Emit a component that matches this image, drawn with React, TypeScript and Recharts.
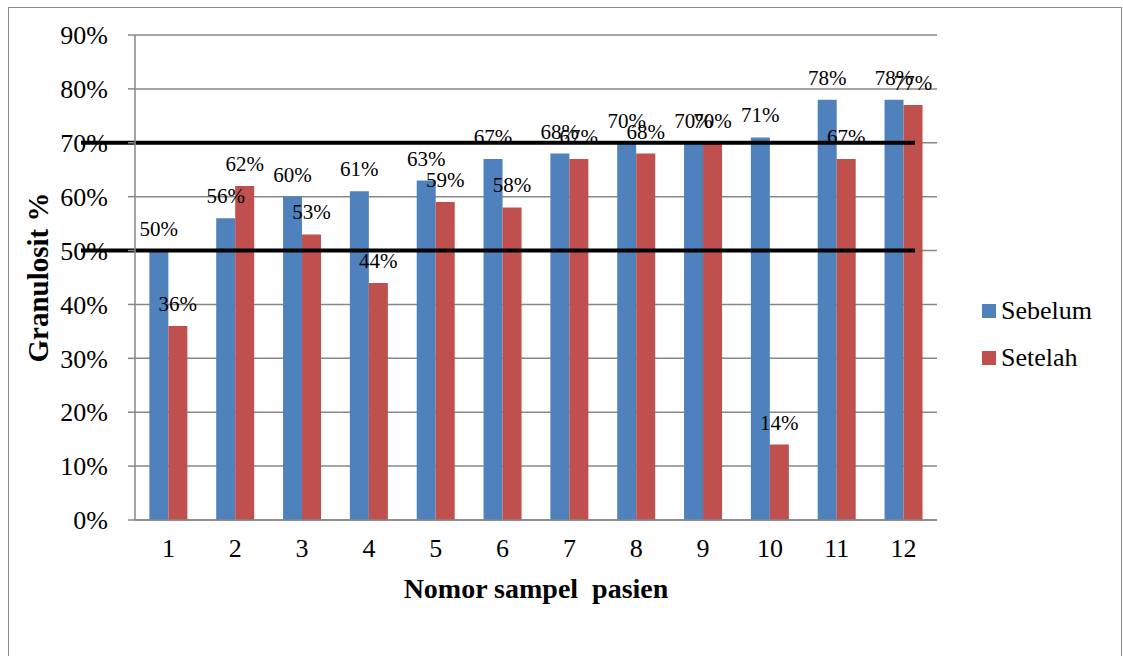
import { BarChart, Bar, XAxis, YAxis, CartesianGrid, LabelList, ReferenceLine } from "recharts";

const SAMPLES = ["1", "2", "3", "4", "5", "6", "7", "8", "9", "10", "11", "12"];
const SEBELUM = [50, 56, 60, 61, 63, 67, 68, 70, 70, 71, 78, 78];
const SETELAH = [36, 62, 53, 44, 59, 58, 67, 68, 70, 14, 67, 77];
const Y_TICKS = [0, 10, 20, 30, 40, 50, 60, 70, 80, 90];
const LIMITS = [70, 50];

const BLUE = "#4F81BD";
const RED = "#C0504D";
const GRID = "#878787";
const FONT = '"Liberation Serif", "Times New Roman", serif';

const data = SAMPLES.map((s, i) => ({ sample: s, sebelum: SEBELUM[i], setelah: SETELAH[i] }));

// thick black lines drawn over the chart, a bit wider than the plot on the left
const limitLine = (props: any) => (
  <line x1={props.x1 - 54} y1={props.y1} x2={props.x2 - 22} y2={props.y2} stroke="#000" strokeWidth={4} />
);

// rotated y title, centred on the plot height
const YTitle = (props: any) => {
  const vb = props.viewBox || {};
  const cy = vb.y + vb.height / 2;
  return (
    <text x={38} y={cy} transform={`rotate(-90, 38, ${cy})`} textAnchor="middle" dominantBaseline="central"
      fontFamily={FONT} fontSize={29} fontWeight="bold" fill="#000">
      Granulosit %
    </text>
  );
};

function LegendBox() {
  const items = [
    { name: "Sebelum", color: BLUE },
    { name: "Setelah", color: RED },
  ];
  return (
    <div style={{ position: "absolute", left: 982, top: 287, fontFamily: FONT, fontSize: 26, color: "#000" }}>
      {items.map((it) => (
        <div key={it.name} style={{ display: "flex", alignItems: "center", height: 47 }}>
          <span style={{ width: 14, height: 14, background: it.color, marginRight: 5, display: "inline-block" }} />
          {it.name}
        </div>
      ))}
    </div>
  );
}

export default function App() {
  return (
    <div style={{ position: "absolute", left: 0, top: 0, width: 1123, height: 656, overflow: "hidden", background: "#fff", fontFamily: FONT }}>
      <div style={{ position: "absolute", left: 8, top: 7, width: 1112, height: 680, border: "1.5px solid #8c8c8c" }} />
      <BarChart
        width={1123}
        height={656}
        data={data}
        margin={{ top: 35, right: 186, left: 0, bottom: 56 }}
        barGap={0}
        barCategoryGap="21.5%"
        style={{ fontFamily: FONT }}
      >
        <CartesianGrid vertical={false} stroke={GRID} strokeWidth={1.5} />
        <XAxis
          dataKey="sample"
          tickLine={false}
          axisLine={{ stroke: GRID, strokeWidth: 1.5 }}
          tick={{ fill: "#000", fontSize: 26, fontFamily: FONT }}
          tickMargin={13}
          height={80}
          label={{ value: "Nomor sampel\u00a0 pasien", position: "insideBottom", offset: 2, fill: "#000", fontSize: 28, fontWeight: "bold", fontFamily: FONT }}
        />
        <YAxis
          width={135}
          domain={[0, 90]}
          ticks={Y_TICKS}
          interval={0}
          tickFormatter={(v: number) => `${v}%`}
          tickSize={7}
          tickMargin={20}
          tickLine={{ stroke: GRID, strokeWidth: 1.5 }}
          axisLine={{ stroke: GRID, strokeWidth: 1.5 }}
          tick={{ fill: "#000", fontSize: 26, fontFamily: FONT }}
          label={<YTitle />}
        />
        <Bar dataKey="sebelum" name="Sebelum" fill={BLUE} isAnimationActive={false}>
          <LabelList dataKey="sebelum" position="top" offset={15} formatter={(v: any) => `${v}%`} fill="#000" fontSize={21} fontFamily={FONT} />
        </Bar>
        <Bar dataKey="setelah" name="Setelah" fill={RED} isAnimationActive={false}>
          <LabelList dataKey="setelah" position="top" offset={15} formatter={(v: any) => `${v}%`} fill="#000" fontSize={21} fontFamily={FONT} />
        </Bar>
        {LIMITS.map((v) => (
          <ReferenceLine key={v} y={v} ifOverflow="visible" shape={limitLine} />
        ))}
      </BarChart>
      <LegendBox />
    </div>
  );
}
